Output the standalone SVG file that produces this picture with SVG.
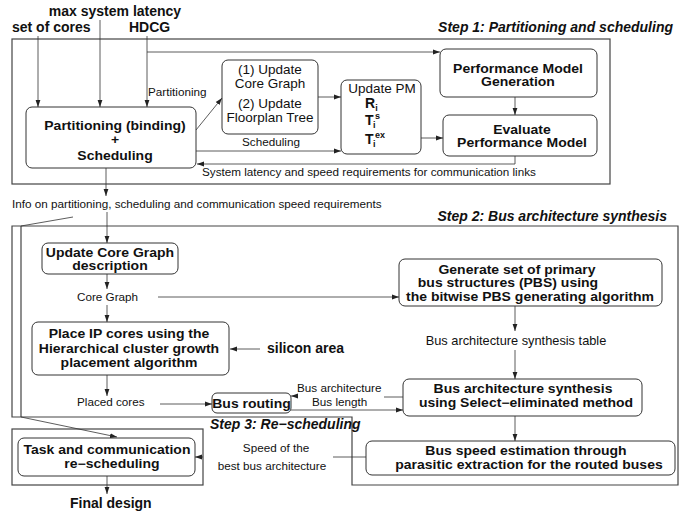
<svg xmlns="http://www.w3.org/2000/svg" width="695" height="516" viewBox="0 0 695 516">
  <defs>
    <marker id="ah" markerWidth="7" markerHeight="6" refX="7" refY="3" orient="auto" markerUnits="userSpaceOnUse">
      <path d="M0,0.6 L7,3 L0,5.4 Z" fill="#222"/>
    </marker>
    <style>
      text { font-family: "Liberation Sans", Arial, sans-serif; fill: #111; }
      .b { font-weight: bold; font-size: 14px; }
      .bi { font-weight: bold; font-style: italic; font-size: 14px; }
      .r { font-size: 13.5px; }
      .l { font-size: 11.7px; }
      .m { text-anchor: middle; }
      .e { text-anchor: end; }
      .s { font-size: 9px; }
      .sq { transform-box: fill-box; transform-origin: 50% 60%; transform: scaleY(0.86); }
      .frame { fill: none; stroke: #444; stroke-width: 1.2; }
      .box { fill: #fff; stroke: #333; stroke-width: 1; }
      .c { fill: none; stroke: #333; stroke-width: 0.8; }
      .a { marker-end: url(#ah); }
    </style>
  </defs>
  <rect width="695" height="516" fill="#fff"/>

  <!-- step frames -->
  <g id="frames">
    <rect class="frame" x="12" y="39" width="598" height="145"/>
    <path class="frame" d="M12,226 H678 V485 H352 V417 H12 Z"/>
    <path class="frame" d="M21,226 V417"/>
    <rect class="frame" x="12" y="429" width="191" height="56"/>
    <text class="bi e" x="673" y="32">Step 1: Partitioning and scheduling</text>
    <text class="bi e" x="667" y="221">Step 2: Bus architecture synthesis</text>
    <text class="bi" x="210" y="429">Step 3: Re−scheduling</text>
  </g>

  <!-- inputs and outputs -->
  <g id="inputs">
    <text class="b m" x="115" y="16">max system latency</text>
    <text class="b" x="12" y="32">set of cores</text>
    <text class="b" x="129" y="32">HDCG</text>
    <text class="b" x="267" y="353">silicon area</text>
    <text class="b" x="70" y="508">Final design</text>
  </g>

  <!-- step 1 nodes -->
  <g id="partitioning">
    <rect class="box" x="26" y="107" width="170" height="61" rx="6"/>
    <text class="b m sq" x="115" y="130">Partitioning (binding)</text>
    <text class="b m sq" x="115" y="144">+</text>
    <text class="b m sq" x="115" y="160">Scheduling</text>
  </g>
  <g id="update-graph">
    <rect class="box" x="222" y="60" width="96" height="74" rx="6"/>
    <text class="r m" x="270" y="74">(1) Update</text>
    <text class="r m" x="270" y="88">Core Graph</text>
    <text class="r m" x="270" y="108">(2) Update</text>
    <text class="r m" x="270" y="122">Floorplan Tree</text>
  </g>
  <g id="update-pm">
    <rect class="box" x="341" y="80" width="80" height="74" rx="6"/>
    <text class="r m" x="382" y="93">Update PM</text>
    <text class="b" x="365" y="108">R<tspan class="s" dy="2.5">i</tspan></text>
    <text class="b" x="365" y="125">T<tspan class="s" x="373" dy="2.5">i</tspan><tspan class="s" x="375" dy="-8.5">s</tspan></text>
    <text class="b" x="365" y="144">T<tspan class="s" x="373" dy="2.5">i</tspan><tspan class="s" x="375" dy="-8.5">ex</tspan></text>
  </g>
  <g id="pm-generation">
    <rect class="box" x="440" y="49" width="157" height="48" rx="6"/>
    <text class="b m sq" x="518" y="73">Performance Model</text>
    <text class="b m sq" x="518" y="86">Generation</text>
  </g>
  <g id="pm-evaluate">
    <rect class="box" x="443" y="115" width="154" height="41" rx="6"/>
    <text class="b m sq" x="522" y="134">Evaluate</text>
    <text class="b m sq" x="522" y="147">Performance Model</text>
  </g>

  <!-- step 2 nodes -->
  <g id="core-graph-desc">
    <rect class="box" x="42" y="243" width="136" height="31" rx="6"/>
    <text class="b m sq" x="110" y="257">Update Core Graph</text>
    <text class="b m sq" x="110" y="270">description</text>
  </g>
  <g id="pbs-generate">
    <rect class="box" x="399" y="259" width="263" height="47" rx="6"/>
    <text class="b m sq" x="517" y="274">Generate set of primary</text>
    <text class="b m sq" x="508" y="287">bus structures (PBS) using</text>
    <text class="b m sq" x="530" y="301">the bitwise PBS generating algorithm</text>
  </g>
  <g id="placement">
    <rect class="box" x="32" y="322" width="197" height="53" rx="6"/>
    <text class="b m sq" x="129" y="338">Place IP cores using the</text>
    <text class="b m sq" x="129" y="353">Hierarchical cluster growth</text>
    <text class="b m sq" x="129" y="367">placement algorithm</text>
  </g>
  <g id="bus-routing">
    <rect class="box" x="212" y="393" width="79" height="20" rx="5"/>
    <text class="b m sq" x="251.5" y="408">Bus routing</text>
  </g>
  <g id="bus-synthesis">
    <rect class="box" x="403" y="379" width="239" height="37" rx="6"/>
    <text class="b m sq" x="523" y="393">Bus architecture synthesis</text>
    <text class="b m sq" x="526" y="407">using Select−eliminated method</text>
  </g>
  <g id="bus-speed">
    <rect class="box" x="366" y="441" width="309" height="34" rx="6"/>
    <text class="b m sq" x="526" y="455">Bus speed estimation through</text>
    <text class="b m sq" x="529" y="469">parasitic extraction for the routed buses</text>
  </g>

  <!-- step 3 node -->
  <g id="rescheduling">
    <rect class="box" x="18" y="438" width="177" height="38" rx="6"/>
    <text class="b m sq" x="107" y="454">Task and communication</text>
    <text class="b m sq" x="112" y="468">re−scheduling</text>
  </g>

  <!-- connectors -->
  <g id="connectors">
    <path class="c a" d="M38,36 V107"/>
    <path class="c a" d="M100,20 V107"/>
    <path class="c a" d="M147,36 V107"/>
    <path class="c a" d="M147,52 H440"/>
    <path class="c a" d="M196,130 L222,98"/>
    <path class="c a" d="M318,97 H341"/>
    <path class="c a" d="M196,151 H341"/>
    <path class="c a" d="M421,138 H443"/>
    <path class="c a" d="M515,97 V115"/>
    <path class="c a" d="M515,156 V164 H197"/>
    <path class="c a" d="M106,168 V196"/>
    <path class="c a" d="M107,212 V243"/>
    <path class="c a" d="M107,274 V289"/>
    <path class="c a" d="M158,297 H399"/>
    <path class="c a" d="M107,305 V322"/>
    <path class="c a" d="M260,349 H230"/>
    <path class="c a" d="M107,375 V396"/>
    <path class="c a" d="M160,404 H212"/>
    <path class="c a" d="M515,306 V331"/>
    <path class="c a" d="M515,350 V379"/>
    <path class="c" d="M403,397 H384"/>
    <path class="c a" d="M298,396 H291"/>
    <path class="c a" d="M291,410 H403"/>
    <path class="c a" d="M515,416 V441"/>
    <path class="c" d="M366,457 H333"/>
    <path class="c a" d="M203,457 H195"/>
    <path class="c a" d="M107,476 V494"/>
    <path class="c" d="M21,226 L73,217"/>
    <path class="c a" d="M21,417 L117,437"/>
    <!-- connector labels -->
    <text class="l" x="148" y="96">Partitioning</text>
    <text class="l m" x="271" y="146">Scheduling</text>
    <text class="l" x="202" y="176">System latency and speed requirements for communication links</text>
    <text class="l" x="12" y="208">Info on partitioning, scheduling and communication speed requirements</text>
    <text class="l" x="77" y="301">Core Graph</text>
    <text class="l m" x="516" y="345" style="font-size:12.8px">Bus architecture synthesis table</text>
    <text class="l" x="77" y="406">Placed cores</text>
    <text class="l" x="297" y="392">Bus architecture</text>
    <text class="l" x="312" y="406">Bus length</text>
    <text class="l m" x="276" y="452">Speed of the</text>
    <text class="l m" x="272" y="470">best bus architecture</text>
  </g>
</svg>
